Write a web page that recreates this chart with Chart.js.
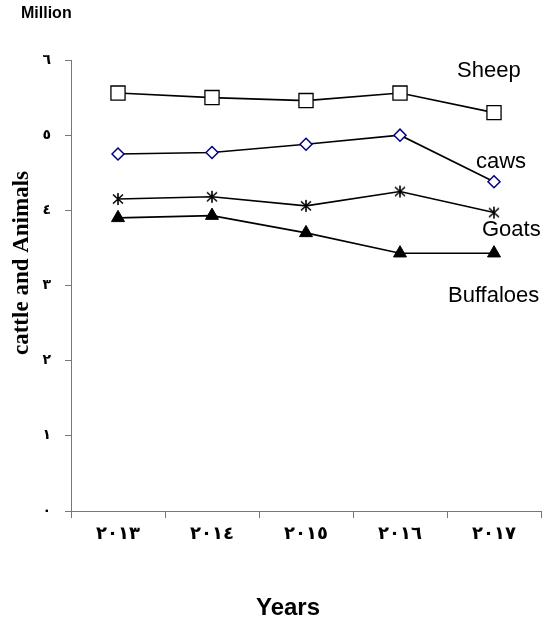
<!DOCTYPE html>
<html>
<head>
<meta charset="utf-8">
<script src="https://cdn.jsdelivr.net/npm/chart.js@4.4.0/dist/chart.umd.min.js"></script>
<style>
  html, body { margin: 0; padding: 0; background: #fff; }
  #wrap { width: 547px; height: 629px; }
</style>
</head>
<body>
<div id="wrap"><canvas id="chart" width="547" height="629"></canvas></div>
<script>
const years = ["2013", "2014", "2015", "2016", "2017"];
const yearLabels = ["٢٠١٣", "٢٠١٤", "٢٠١٥", "٢٠١٦", "٢٠١٧"];
const yTickLabels = ["٠", "١", "٢", "٣", "٤", "٥", "٦"];

const sheep = [5.56, 5.50, 5.46, 5.56, 5.30];
const caws = [4.75, 4.77, 4.88, 5.00, 4.38];
const goats = [4.15, 4.18, 4.06, 4.25, 3.97];
const buffaloes = [3.90, 3.93, 3.70, 3.43, 3.43];

const seriesNames = ["Sheep", "caws", "Goats", "Buffaloes"];

// six armed asterisk like the excel marker
function asterisk() {
  const cv = document.createElement("canvas");
  cv.width = 14; cv.height = 14;
  const g = cv.getContext("2d");
  g.strokeStyle = "#000";
  g.lineWidth = 1.6;
  g.beginPath();
  g.moveTo(7, 1); g.lineTo(7, 13);
  g.moveTo(2, 2.5); g.lineTo(12, 11.5);
  g.moveTo(12, 2.5); g.lineTo(2, 11.5);
  g.stroke();
  return cv;
}

// labels next to the lines, title texts
const textPlugin = {
  id: "texts",
  afterDraw(c) {
    const ctx = c.ctx;
    ctx.save();
    ctx.fillStyle = "#000";
    ctx.textBaseline = "middle";

    ctx.font = "bold 16px 'Liberation Sans', Arial";
    ctx.textAlign = "left";
    ctx.fillText("Million", 21, 14);

    ctx.font = "22px 'Liberation Sans', Arial";
    ctx.fillText(seriesNames[0], 457, 71);
    ctx.fillText(seriesNames[1], 476, 162);
    ctx.fillText(seriesNames[2], 482, 230);
    ctx.fillText(seriesNames[3], 448, 296);

    ctx.textAlign = "center";
    ctx.font = "bold 24px 'Liberation Sans', Arial";
    ctx.fillText("Years", 288, 608);

    ctx.translate(22, 263);
    ctx.rotate(-Math.PI / 2);
    ctx.font = "bold 23px 'Liberation Serif', 'Times New Roman'";
    ctx.fillText("cattle and Animals", 0, 0);
    ctx.restore();
  }
};

new Chart(document.getElementById("chart"), {
  type: "line",
  data: {
    labels: years,
    datasets: [
      {
        label: seriesNames[0], data: sheep,
        borderColor: "#000", borderWidth: 1.6,
        pointStyle: "rect", pointRadius: 10, pointBorderWidth: 1.3,
        pointBorderColor: "#000", pointBackgroundColor: "#fff"
      },
      {
        label: seriesNames[1], data: caws,
        borderColor: "#000", borderWidth: 1.6,
        pointStyle: "rectRot", pointRadius: 6, pointBorderWidth: 1.5,
        pointBorderColor: "#000080", pointBackgroundColor: "#fff"
      },
      {
        label: seriesNames[2], data: goats,
        borderColor: "#000", borderWidth: 1.6,
        pointStyle: asterisk(), pointRadius: 7,
        pointBorderColor: "#000", pointBackgroundColor: "#000"
      },
      {
        label: seriesNames[3], data: buffaloes,
        borderColor: "#000", borderWidth: 1.6,
        pointStyle: "triangle", pointRadius: 7.5, pointBorderWidth: 1,
        pointBorderColor: "#000", pointBackgroundColor: "#000"
      }
    ]
  },
  options: {
    responsive: false,
    animation: false,
    devicePixelRatio: 1,
    clip: false,
    layout: { autoPadding: false, padding: { top: 60, right: 6, left: 0, bottom: 0 } },
    plugins: { legend: { display: false }, tooltip: { enabled: false } },
    elements: { line: { tension: 0 } },
    scales: {
      x: {
        offset: true,
        grid: { offset: true, drawOnChartArea: false, tickLength: 7, color: "#777" },
        border: { color: "#777", width: 1 },
        ticks: {
          color: "#000", padding: 6,
          font: { family: "'DejaVu Sans'", size: 18, weight: "bold" },
          callback: (v, i) => yearLabels[i]
        },
        afterFit: s => { s.height = 118; s.paddingLeft = 0; s.paddingRight = 0; }
      },
      y: {
        min: 0, max: 6,
        grid: { drawOnChartArea: false, tickLength: 6, color: "#777" },
        border: { color: "#777", width: 1 },
        ticks: {
          stepSize: 1, color: "#000", padding: 14,
          font: { family: "'DejaVu Sans'", size: 14, weight: "bold" },
          callback: v => yTickLabels[v]
        },
        afterFit: s => { s.width = 71; }
      }
    }
  },
  plugins: [textPlugin]
});
</script>
</body>
</html>
